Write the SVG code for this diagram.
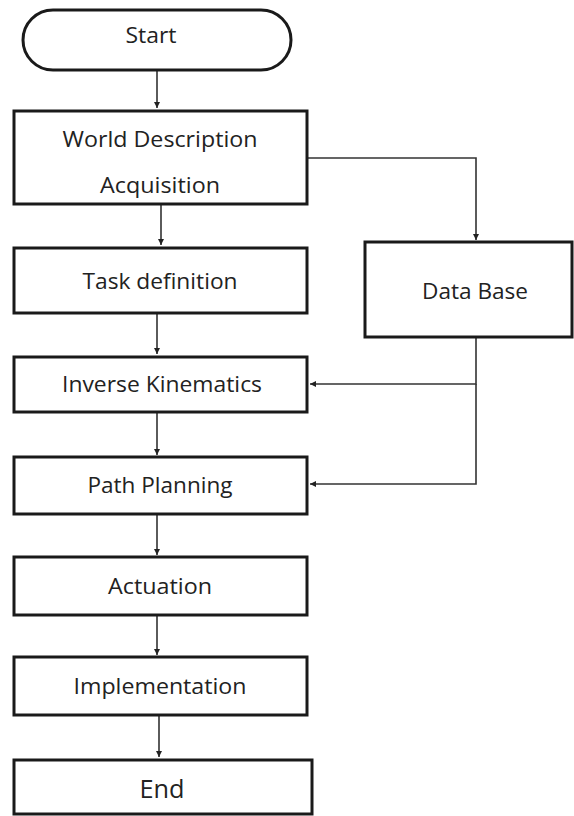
<svg xmlns="http://www.w3.org/2000/svg" width="574" height="816" viewBox="0 0 574 816">
  <style>
    .box { fill: #ffffff; stroke: #1a1a1a; stroke-width: 3; }
    .lbl { font-family: "Open Sans", "Noto Sans", sans-serif; font-size: 22px; fill: #222222; text-anchor: middle; dominant-baseline: central; }
    .wire { fill: none; stroke: #333333; stroke-width: 1.6; }
  </style>
  <defs>
    <marker id="arrow" markerWidth="8" markerHeight="8" refX="6" refY="4" orient="auto" markerUnits="userSpaceOnUse">
      <path d="M0,1 L6,4 L0,7 Z" fill="#222222"/>
    </marker>
  </defs>
  <rect width="574" height="816" fill="#ffffff"/>

  <!-- connectors -->
  <g id="connectors">
    <line class="wire" x1="157" y1="71" x2="157" y2="108" marker-end="url(#arrow)"/>
    <line class="wire" x1="161" y1="205" x2="161" y2="245" marker-end="url(#arrow)"/>
    <line class="wire" x1="157" y1="314" x2="157" y2="354" marker-end="url(#arrow)"/>
    <line class="wire" x1="157" y1="413" x2="157" y2="455" marker-end="url(#arrow)"/>
    <line class="wire" x1="157" y1="515" x2="157" y2="555" marker-end="url(#arrow)"/>
    <line class="wire" x1="157" y1="616" x2="157" y2="655" marker-end="url(#arrow)"/>
    <line class="wire" x1="159" y1="710" x2="159" y2="757" marker-end="url(#arrow)"/>
    <polyline class="wire" points="308,158 476,158 476,240" marker-end="url(#arrow)"/>
    <polyline class="wire" points="476,338 476,384 310,384" marker-end="url(#arrow)"/>
    <polyline class="wire" points="476,384 476,484 310,484" marker-end="url(#arrow)"/>
  </g>

  <g id="start">
    <rect class="box" x="23" y="10" width="268" height="60" rx="30" ry="30"/>
    <text class="lbl" x="151" y="34" textLength="51" lengthAdjust="spacingAndGlyphs">Start</text>
  </g>
  <g id="world-description">
    <rect class="box" x="14" y="111" width="293" height="93"/>
    <text class="lbl" x="160" y="138" textLength="195" lengthAdjust="spacingAndGlyphs">World Description</text>
    <text class="lbl" x="160" y="184" textLength="120" lengthAdjust="spacingAndGlyphs">Acquisition</text>
  </g>
  <g id="task-definition">
    <rect class="box" x="14" y="248" width="293" height="65"/>
    <text class="lbl" x="160" y="280" textLength="155" lengthAdjust="spacingAndGlyphs">Task definition</text>
  </g>
  <g id="data-base">
    <rect class="box" x="365" y="242" width="207" height="95"/>
    <text class="lbl" x="475" y="290" textLength="106" lengthAdjust="spacingAndGlyphs">Data Base</text>
  </g>
  <g id="inverse-kinematics">
    <rect class="box" x="14" y="357" width="293" height="55"/>
    <text class="lbl" x="162" y="383" textLength="200" lengthAdjust="spacingAndGlyphs">Inverse Kinematics</text>
  </g>
  <g id="path-planning">
    <rect class="box" x="14" y="457" width="293" height="57"/>
    <text class="lbl" x="160" y="484" textLength="145" lengthAdjust="spacingAndGlyphs">Path Planning</text>
  </g>
  <g id="actuation">
    <rect class="box" x="14" y="557" width="293" height="58"/>
    <text class="lbl" x="160" y="585" textLength="104" lengthAdjust="spacingAndGlyphs">Actuation</text>
  </g>
  <g id="implementation">
    <rect class="box" x="14" y="657" width="293" height="58"/>
    <text class="lbl" x="160" y="685" textLength="173" lengthAdjust="spacingAndGlyphs">Implementation</text>
  </g>
  <g id="end">
    <rect class="box" x="14" y="760" width="298" height="54"/>
    <text class="lbl" x="162" y="788" style="font-size:26px" textLength="45" lengthAdjust="spacingAndGlyphs">End</text>
  </g>
</svg>
